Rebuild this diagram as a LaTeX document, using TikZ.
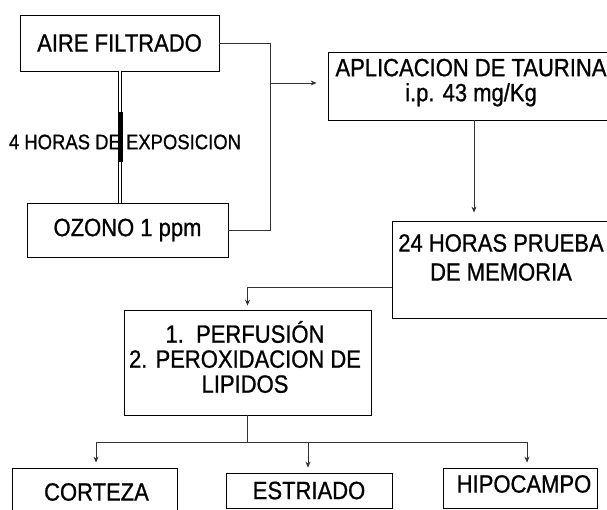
\documentclass[tikz,border=0pt]{standalone}
\usepackage{fontspec}
\setmainfont{Liberation Sans}[FakeStretch=0.88,FakeBold=0.8]
\usetikzlibrary{arrows.meta}
\begin{document}
\begin{tikzpicture}[x=1pt,y=-1pt,
  box/.style={draw=black, line width=0.8pt, inner sep=0pt, font=\fontsize{25}{25}\selectfont, align=center},
  txt/.style={inner sep=0pt, font=\fontsize{25}{25}\selectfont, align=center},
  conn/.style={draw=black!80, line width=0.8pt},
  arr/.style={conn, -{Stealth[length=6pt,width=5pt]}}]
\useasboundingbox (0,0) rectangle (607,510);
\fill[white] (0,0) rectangle (607,510);
\clip (0,0) rectangle (607,510);

% boxes
\node[box, minimum width=199pt, minimum height=56pt] (air) at (119.5,43) {AIRE FILTRADO};
\node[box, minimum width=201pt, minimum height=54pt] (ozo) at (127.5,230) {OZONO 1 ppm};
\node[box, minimum width=292pt, minimum height=68pt] (apl) at (474,86) {};
\node[txt] (aplt) at (471,82.6) {APLICACION DE TAURINA\\i.p. 43 mg/Kg};
\node[box, minimum width=240pt, minimum height=97pt] (mem) at (512,269.5) {};
\node[txt, font=\fontsize{25}{29}\selectfont] (memt) at (501,257.5) {24 HORAS PRUEBA\\DE MEMORIA};
\node[box, minimum width=247pt, minimum height=105pt] (per) at (247.5,362.5) {};
\node[txt] (pert) at (245,357) {1.\ \ PERFUSIÓN\\2. PEROXIDACION DE\\LIPIDOS};
\node[box, minimum width=165pt, minimum height=62pt] (cor) at (94.5,499) {};
\node[txt] (cort) at (96.5,492) {CORTEZA};
\node[box, minimum width=166pt, minimum height=35pt] (est) at (309,490.5) {ESTRIADO};
\node[box, minimum width=154pt, minimum height=40pt] (hip) at (520,488) {};
\node[txt] (hipt) at (524,484) {HIPOCAMPO};

% exposure label and double line
\node[inner sep=0pt, font=\fontsize{21}{22}\selectfont] (lab) at (125,142) {4 HORAS DE EXPOSICION};
\coordinate (xv) at (120,0);
\draw[line width=0.7pt, double=white, double distance=2.4pt] (air.south -| xv) -- (ozo.north -| xv);
\coordinate (tb1) at (120,112);
\coordinate (tb2) at (120,162);
\draw[line width=5pt] (tb1) -- (tb2);

% connectors
\coordinate (j1) at (270,83);
\draw[conn] (air.east) -| (j1);
\draw[conn] (ozo.east) -| (j1);
\draw[arr, shorten >=11pt] (j1) -- (j1 -| apl.west);

\coordinate (x2) at (474,0);
\draw[arr, shorten >=8pt] (apl.south -| x2) -- (mem.north -| x2);

\coordinate (j3) at (247.5,287);
\draw[arr, shorten >=4pt] (j3 -| mem.west) -- (j3) -- (per.north);

\coordinate (j4) at (247.5,442);
\coordinate (xc) at (96,0);
\coordinate (xe) at (308,0);
\coordinate (xh) at (527,0);
\draw[conn] (per.south) -- (j4);
\draw[arr, shorten >=5pt] (j4) -| (cor.north -| xc);
\draw[arr, shorten >=5pt] (j4) -| (hip.north -| xh);
\draw[arr, shorten >=5pt] (j4 -| xe) -- (est.north -| xe);
\end{tikzpicture}
\end{document}
